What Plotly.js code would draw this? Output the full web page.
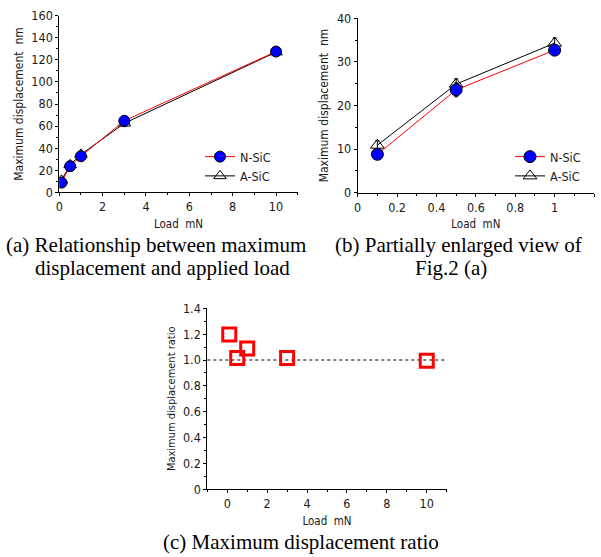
<!DOCTYPE html>
<html>
<head>
<meta charset="utf-8">
<script src="https://cdn.plot.ly/plotly-3.0.1.min.js"></script>
<style>html,body{margin:0;padding:0;background:#fff;}#chart{width:601px;height:557px;}</style>
</head>
<body>
<div id="chart"></div>
<script>
// ---- data ----
var loads = [0.1, 0.5, 1, 3, 10];
var nSiC = [8.8, 23.6, 32.7, 64.8, 127.5];
var nSiCErr = [1.0, 1.6, 1.0, 2.0, 2.5];
var aSiC = [10.9, 24.9, 34.3, 62.5, 127.0];
var aSiCErr = [1.0, 1.2, 1.2, 3.0, 3.0];
var ratio = [1.197, 1.015, 1.089, 1.015, 0.995];
var ratioRef = 1.0;
var zoomCount = 3; // points shown in enlarged view (b)
var ratioTickVals = [0, 0.2, 0.4, 0.6, 0.8, 1.0, 1.2, 1.4];
var ratioTickText = ['0', '0.2', '0.4', '0.6', '0.8', '1.0', '1.2', '1.4'];
var captions = {
  a: ['(a) Relationship between maximum', 'displacement and applied load'],
  b: ['(b) Partially enlarged view of', 'Fig.2 (a)'],
  c: ['(c) Maximum displacement ratio']
};
var yTitle = 'Maximum displacement\u00a0 nm';
var xTitle = 'Load\u00a0 mN';
var ratioTitle = 'Maximum displacement ratio';

// ---- layout helpers ----
var W = 601, H = 557;
function px(x) { return x / W; }
function py(y) { return 1 - y / H; }
var FONT = 'DejaVu Sans Condensed, DejaVu Sans, Verdana, sans-serif';
var tickFont = {family: FONT, size: 12.5, color: '#1a1a1a'};

function mainX(dom, anchor, range, dtick, title, extra) {
  var o = {domain: dom, anchor: anchor, range: range, dtick: dtick, tick0: 0,
    showline: true, linecolor: '#000', linewidth: 1, ticks: 'outside', ticklen: 3, tickcolor: '#000',
    minor: {dtick: dtick / 2, ticks: 'outside', ticklen: 2, tickcolor: '#000'},
    showgrid: false, zeroline: false, tickfont: tickFont, fixedrange: true,
    title: {text: title, font: {family: FONT, size: 11.5, color: '#1a1a1a'}, standoff: 6}};
  for (var k in extra) o[k] = extra[k];
  return o;
}
function mainY(dom, anchor, range, dtick, title, extra) {
  var o = {domain: dom, anchor: anchor, range: range, dtick: dtick, tick0: 0,
    showline: true, linecolor: '#000', linewidth: 1, ticks: 'outside', ticklen: 3, tickcolor: '#000',
    minor: {dtick: dtick / 2, ticks: 'outside', ticklen: 2, tickcolor: '#000'},
    showgrid: false, zeroline: false, tickfont: tickFont, fixedrange: true,
    title: {text: title, font: {family: FONT, size: 12, color: '#1a1a1a'}, standoff: 5}};
  for (var k in extra) o[k] = extra[k];
  return o;
}
function mirrorAx(over, anchor, side, range, dtick) {
  return {overlaying: over, anchor: anchor, side: side, range: range, dtick: dtick, tick0: 0,
    showline: true, linecolor: '#777', linewidth: 1, ticks: 'inside', ticklen: 3, tickcolor: '#555',
    minor: {dtick: dtick / 2, ticks: 'inside', ticklen: 2, tickcolor: '#555'},
    showticklabels: false, showgrid: false, zeroline: false, fixedrange: true};
}

var domA = {x: [px(59.3), px(297.7)], y: [py(192.3), py(15.7)]};
var domB = {x: [px(357.7), px(594)], y: [py(192.7), py(18.3)]};
var domC = {x: [px(207.3), px(446.7)], y: [py(489.3), py(308.3)]};

function seriesPair(xs, n, a, ne, ae, xa, ya, leg, msize) {
  var tA = {x: xs, y: a, name: 'A-SiC', xaxis: xa, yaxis: ya, legend: leg, showlegend: true, legendrank: 2,
    mode: 'lines+markers', type: 'scatter',
    line: {color: '#000', width: 1},
    marker: {symbol: 'triangle-up-open', size: msize, color: '#000', line: {width: 1}},
    error_y: {type: 'data', array: ae, visible: true, color: '#000', thickness: 1, width: 2}};
  var tN = {x: xs, y: n, name: 'N-SiC', xaxis: xa, yaxis: ya, legend: leg, showlegend: true, legendrank: 1,
    mode: 'lines+markers', type: 'scatter',
    line: {color: '#ff0000', width: 1},
    marker: {symbol: 'circle', size: msize, color: '#0000ff', line: {color: '#000', width: 1}},
    error_y: {type: 'data', array: ne, visible: true, color: '#000', thickness: 1, width: 2}};
  return [tA, tN];
}

var data = [];
data = data.concat(seriesPair(loads, nSiC, aSiC, nSiCErr, aSiCErr, 'x', 'y', 'legend', 11));
data = data.concat(seriesPair(loads.slice(0, zoomCount), nSiC.slice(0, zoomCount), aSiC.slice(0, zoomCount),
  nSiCErr.slice(0, zoomCount), aSiCErr.slice(0, zoomCount), 'x2', 'y2', 'legend2', 12));
data.push({x: loads, y: ratio, name: 'Ratio', xaxis: 'x3', yaxis: 'y3', showlegend: false,
  mode: 'markers', type: 'scatter',
  marker: {symbol: 'square-open', size: 13, color: '#ff0000', line: {color: '#ff0000', width: 3}}});

var legendStyle = {font: {family: FONT, size: 12.5, color: '#1a1a1a'}, bgcolor: 'rgba(0,0,0,0)', borderwidth: 0,
  itemwidth: 30, tracegroupgap: 0, xanchor: 'left', yanchor: 'top', traceorder: 'normal'};
function legAt(x, y) { var o = {}; for (var k in legendStyle) o[k] = legendStyle[k]; o.x = x; o.y = y; return o; }

var annotations = [];
function cap(text, xc, yc) {
  annotations.push({text: text, xref: 'paper', yref: 'paper', x: px(xc), y: py(yc), xanchor: 'center', yanchor: 'middle',
    showarrow: false, borderpad: 0,
    font: {family: 'Liberation Serif, Times New Roman, serif', size: 21, color: '#000'}});
}
cap(captions.a[0], 156, 245);
cap(captions.a[1], 162, 268);
cap(captions.b[0], 458, 245);
cap(captions.b[1], 451, 268);
cap(captions.c[0], 301, 542);

var layout = {
  width: W, height: H, margin: {l: 0, r: 0, t: 0, b: 0},
  paper_bgcolor: '#fff', plot_bgcolor: '#fff',
  xaxis: mainX(domA.x, 'y', [0, 11], 2, xTitle, {}),
  yaxis: mainY(domA.y, 'x', [0, 160], 20, yTitle, {}),
  xaxis2: mainX(domB.x, 'y2', [0, 1.2], 0.2, xTitle, {}),
  yaxis2: mainY(domB.y, 'x2', [0, 40], 10, yTitle, {}),
  xaxis3: mainX(domC.x, 'y3', [-1, 11], 2, xTitle, {}),
  yaxis3: mainY(domC.y, 'x3', [0, 1.4], 0.2, ratioTitle,
    {tickmode: 'array', tickvals: ratioTickVals, ticktext: ratioTickText,
     title: {text: ratioTitle, font: {family: FONT, size: 11, color: '#1a1a1a'}, standoff: 5}}),
  xaxis4: mirrorAx('x', 'y', 'top', [0, 11], 2),
  yaxis4: mirrorAx('y', 'x', 'right', [0, 160], 20),
  xaxis5: mirrorAx('x2', 'y2', 'top', [0, 1.2], 0.2),
  yaxis5: mirrorAx('y2', 'x2', 'right', [0, 40], 10),
  xaxis6: mirrorAx('x3', 'y3', 'top', [-1, 11], 2),
  yaxis6: mirrorAx('y3', 'x3', 'right', [0, 1.4], 0.2),
  legend: legAt(px(200), py(142)),
  legend2: legAt(px(510), py(142)),
  shapes: [{type: 'line', xref: 'x3 domain', yref: 'y3', x0: 0, x1: 1, y0: ratioRef, y1: ratioRef,
    line: {color: '#000', width: 1, dash: '3px,3px'}, layer: 'below'}],
  annotations: annotations,
  showlegend: true
};

Plotly.newPlot('chart', data, layout, {staticPlot: true, displayModeBar: false});
</script>
</body>
</html>
